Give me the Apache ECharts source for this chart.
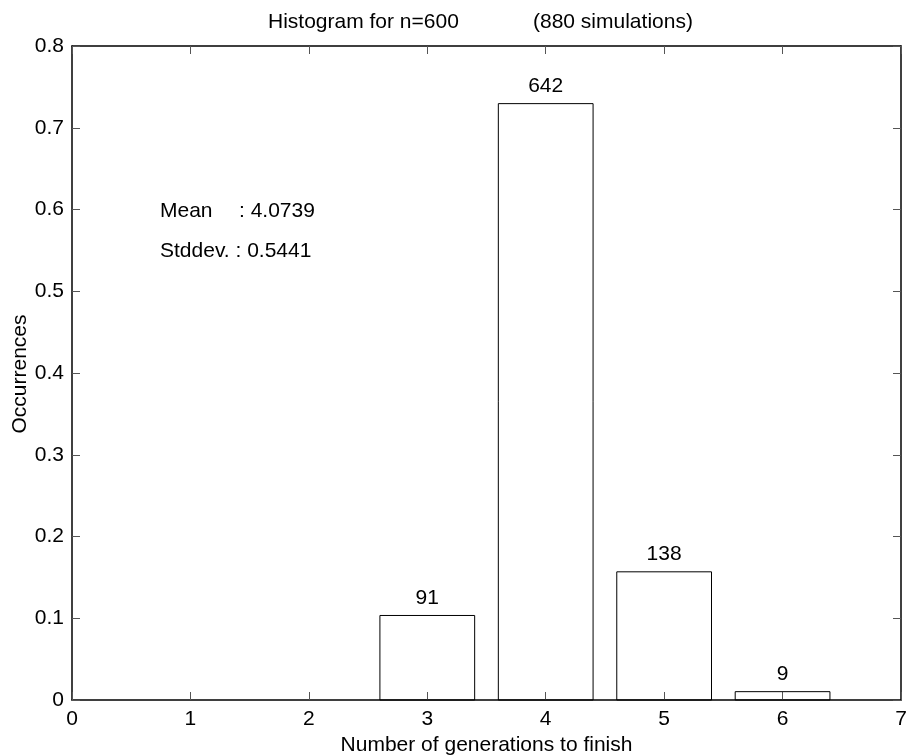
<!DOCTYPE html>
<html>
<head>
<meta charset="utf-8">
<script src="https://cdn.jsdelivr.net/npm/echarts@6/dist/echarts.min.js"></script>
<style>
  html, body { margin: 0; padding: 0; background: #fff; }
  #chart { width: 907px; height: 755px; }
</style>
</head>
<body>
<div id="chart"></div>
<script>
// histogram data
var generations = [3, 4, 5, 6];
var occurrences = [0.1034, 0.7295, 0.1568, 0.0102];
var counts = [91, 642, 138, 9];
var xTicks = [0, 1, 2, 3, 4, 5, 6, 7];
var yTicks = [0, 0.1, 0.2, 0.3, 0.4, 0.5, 0.6, 0.7, 0.8];
var barHalfWidth = 0.4;

var font = 'Liberation Sans, Arial, Helvetica, sans-serif';
var fs = 21;
var chart = echarts.init(document.getElementById('chart'));

var points = generations.map(function (g, i) {
    return [g, occurrences[i], counts[i]];
});

// shared style for the box axes (ticks point inward like matlab)
function boxAxis(extra) {
    var base = {
        type: 'value',
        axisLine: { show: true, onZero: false, lineStyle: { color: '#000', width: 1.5 } },
        axisTick: { show: true, inside: true, length: 8, lineStyle: { color: '#555', width: 1 } },
        splitLine: { show: false },
        axisLabel: { show: false }
    };
    return Object.assign(base, extra);
}

var option = {
    backgroundColor: '#fff',
    animation: false,
    grid: { left: 72, right: 6, top: 46, bottom: 55, containLabel: false, outerBoundsMode: 'none' },
    xAxis: [
        boxAxis({
            min: 0, max: 7, interval: 1,
            position: 'bottom',
            name: 'Number of generations to finish',
            nameLocation: 'middle',
            nameGap: 35,
            nameTextStyle: { fontFamily: font, fontSize: fs, color: '#000' },
            axisLabel: {
                show: true, color: '#000', fontFamily: font, fontSize: fs, margin: 9,
                formatter: function (v) { return xTicks.indexOf(v) >= 0 ? String(v) : ''; }
            }
        }),
        boxAxis({ min: 0, max: 7, interval: 1, position: 'top' })
    ],
    yAxis: [
        boxAxis({
            min: 0, max: 0.8, interval: 0.1,
            position: 'left',
            axisLabel: {
                show: true, color: '#000', fontFamily: font, fontSize: fs, margin: 8,
                formatter: function (v) {
                    var t = yTicks.filter(function (y) { return Math.abs(y - v) < 1e-9; });
                    return t.length ? String(+t[0].toFixed(1)) : '';
                }
            }
        }),
        boxAxis({ min: 0, max: 0.8, interval: 0.1, position: 'right' })
    ],
    graphic: [
        // title is two pieces with a wide gap, as in the original
        { type: 'text', left: 268, top: 12, style: { text: 'Histogram for n=600', font: fs + 'px ' + font, fill: '#000' } },
        { type: 'text', left: 533, top: 12, style: { text: '(880 simulations)', font: fs + 'px ' + font, fill: '#000' } },
        // y axis title, placed by hand so it sits where matlab put it
        {
            type: 'text', x: 20, y: 374, rotation: Math.PI / 2,
            style: { text: 'Occurrences', font: fs + 'px ' + font, fill: '#000', align: 'center', verticalAlign: 'middle' }
        },
        { type: 'text', left: 160, top: 201, style: { text: 'Mean', font: fs + 'px ' + font, fill: '#000' } },
        { type: 'text', left: 239, top: 201, style: { text: ': 4.0739', font: fs + 'px ' + font, fill: '#000' } },
        { type: 'text', left: 160, top: 241, style: { text: 'Stddev. : 0.5441', font: fs + 'px ' + font, fill: '#000' } }
    ],
    series: [
        {
            type: 'custom',
            xAxisIndex: 0,
            yAxisIndex: 0,
            z: 1,
            data: points,
            renderItem: function (params, api) {
                var x = api.value(0);
                var y = api.value(1);
                var topLeft = api.coord([x - barHalfWidth, y]);
                var bottomRight = api.coord([x + barHalfWidth, 0]);
                return {
                    type: 'group',
                    children: [
                        {
                            type: 'rect',
                            shape: {
                                x: topLeft[0],
                                y: topLeft[1],
                                width: bottomRight[0] - topLeft[0],
                                height: bottomRight[1] - topLeft[1]
                            },
                            style: { fill: 'transparent', stroke: '#000', lineWidth: 1 }
                        },
                        {
                            type: 'text',
                            x: (topLeft[0] + bottomRight[0]) / 2,
                            y: topLeft[1] - 7,
                            style: {
                                text: String(api.value(2)),
                                font: fs + 'px ' + font,
                                fill: '#000',
                                align: 'center',
                                verticalAlign: 'bottom'
                            }
                        }
                    ]
                };
            }
        }
    ]
};

chart.setOption(option);
</script>
</body>
</html>
